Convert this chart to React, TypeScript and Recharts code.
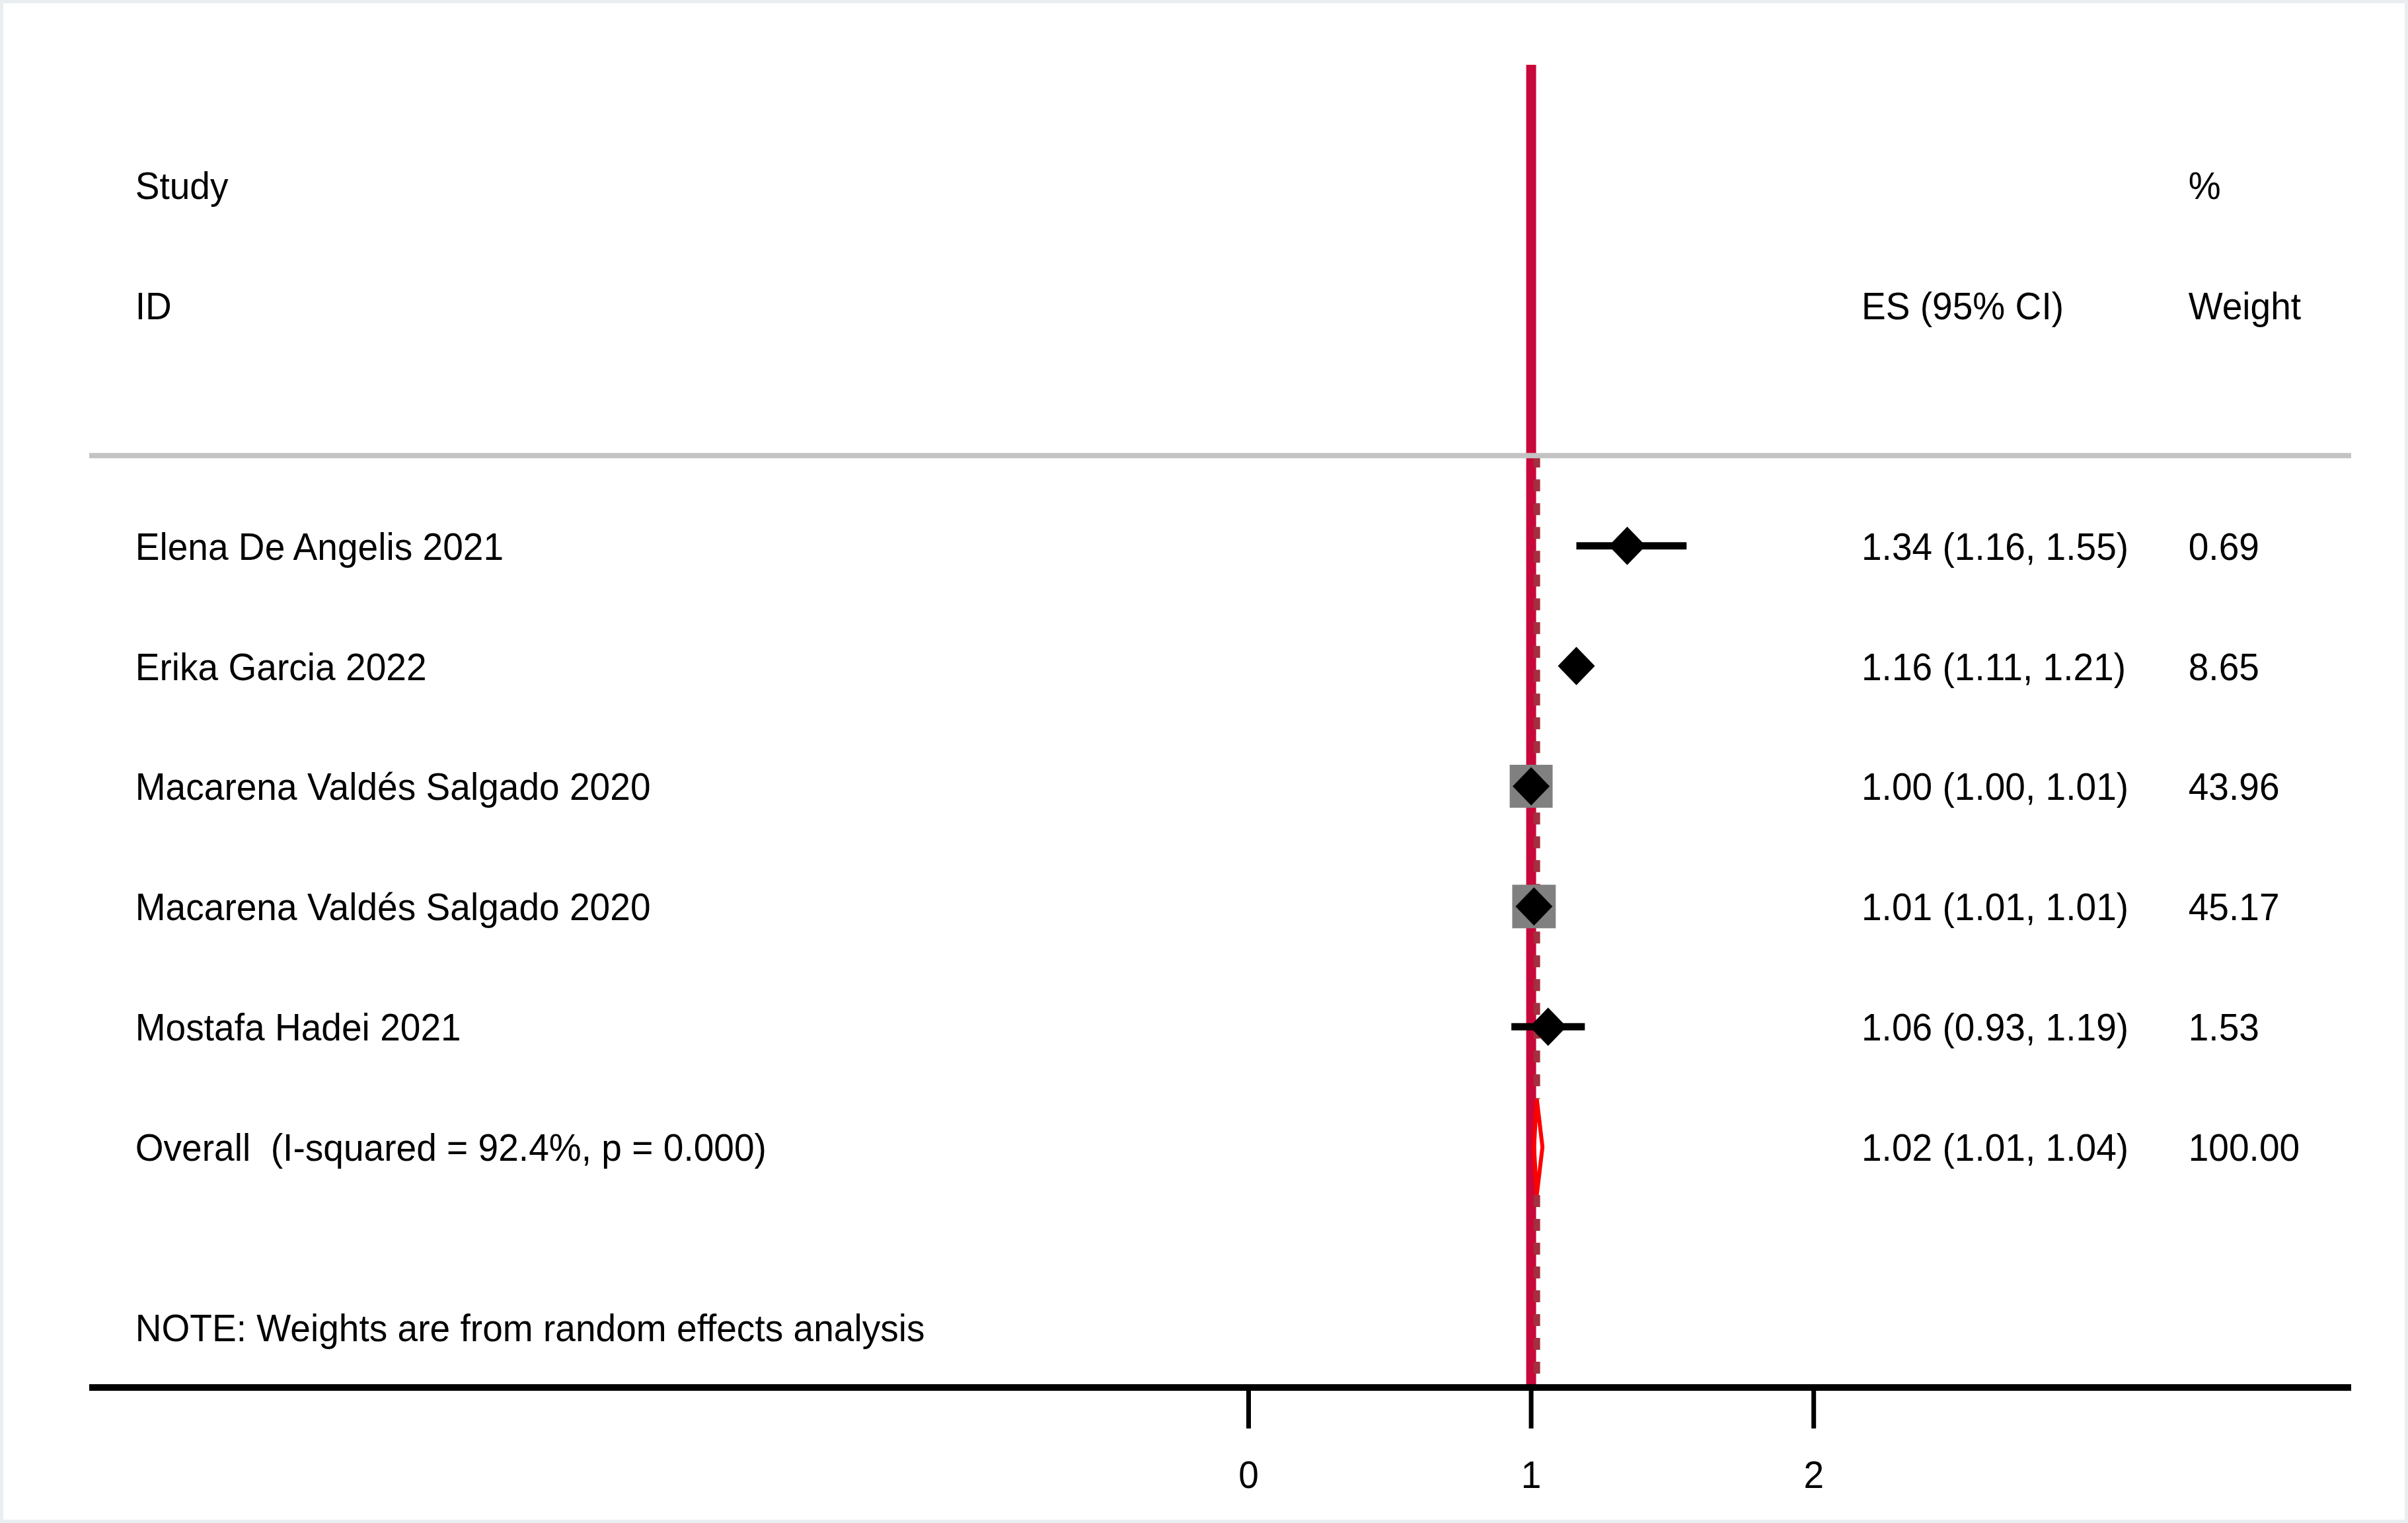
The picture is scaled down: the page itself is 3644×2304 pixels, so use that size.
import React from 'react';
import { ComposedChart, XAxis, YAxis, Scatter, ReferenceLine } from 'recharts';

// ---- data ----
const studyLabels = [
  'Elena De Angelis 2021',
  'Erika Garcia 2022',
  'Macarena Valdés Salgado 2020',
  'Macarena Valdés Salgado 2020',
  'Mostafa Hadei 2021',
];
const effectSizes = [1.34, 1.16, 1.0, 1.01, 1.06];
const ciLower = [1.16, 1.11, 1.0, 1.01, 0.93];
const ciUpper = [1.55, 1.21, 1.01, 1.01, 1.19];
const weights = [0.69, 8.65, 43.96, 45.17, 1.53];

const overallLabel = 'Overall  (I-squared = 92.4%, p = 0.000)';
const overallES = 1.02;
const overallLower = 1.01;
const overallUpper = 1.04;
const overallWeight = 100.0;

const xTicks = [0, 1, 2];
const headerTop = ['Study', '', '%'];
const headerBottom = ['ID', 'ES (95% CI)', 'Weight'];
const noteText = 'NOTE: Weights are from random effects analysis';

// ---- layout constants (data units of the axes) ----
const X_DOMAIN: [number, number] = [-4.103, 3.902];
const Y_DOMAIN: [number, number] = [0, 11];
const COL_LABEL = -3.94;
const COL_ES = 2.169;
const COL_WEIGHT = 3.326;
const FIRST_ROW = 4;
const HEADER_ROW1 = 1;
const HEADER_ROW2 = 2;
const SEPARATOR_ROW = 3.25;
const NOTE_ROW = 10.5;
const DIAMOND_HALF = 0.4;

const FONT = "'Liberation Sans', Arial, Helvetica, sans-serif";
const FONT_SIZE = 58;
const X_SQUEEZE = 0.95;

const fmt = (v: number) => v.toFixed(2);

const overallRow = FIRST_ROW + studyLabels.length;

const studyRows = studyLabels.map((label, i) => ({
  x: effectSizes[i],
  y: FIRST_ROW + i,
  lo: ciLower[i],
  hi: ciUpper[i],
  w: weights[i],
  label,
}));

const labelTexts = [
  { x: COL_LABEL, y: HEADER_ROW1, text: headerTop[0] },
  { x: COL_LABEL, y: HEADER_ROW2, text: headerBottom[0] },
  ...studyLabels.map((t, i) => ({ x: COL_LABEL, y: FIRST_ROW + i, text: t })),
  { x: COL_LABEL, y: overallRow, text: overallLabel },
  { x: COL_LABEL, y: NOTE_ROW, text: noteText },
];
const esTexts = [
  { x: COL_ES, y: HEADER_ROW2, text: headerBottom[1] },
  ...effectSizes.map((e, i) => ({
    x: COL_ES,
    y: FIRST_ROW + i,
    text: `${fmt(e)} (${fmt(ciLower[i])}, ${fmt(ciUpper[i])})`,
  })),
  { x: COL_ES, y: overallRow, text: `${fmt(overallES)} (${fmt(overallLower)}, ${fmt(overallUpper)})` },
];
const weightTexts = [
  { x: COL_WEIGHT, y: HEADER_ROW1, text: headerTop[2] },
  { x: COL_WEIGHT, y: HEADER_ROW2, text: headerBottom[2] },
  ...weights.map((w, i) => ({ x: COL_WEIGHT, y: FIRST_ROW + i, text: fmt(w) })),
  { x: COL_WEIGHT, y: overallRow, text: fmt(overallWeight) },
];

const overallDiamond = [
  { x: overallLower, y: overallRow },
  { x: overallES, y: overallRow - DIAMOND_HALF },
  { x: overallUpper, y: overallRow },
  { x: overallES, y: overallRow + DIAMOND_HALF },
  { x: overallLower, y: overallRow },
];

const TextShape = (props: any) => {
  const { cx, cy, payload } = props;
  return (
    <text
      transform={`translate(${cx},${cy + 21}) scale(${X_SQUEEZE},1)`}
      fontSize={FONT_SIZE}
      fontFamily={FONT}
      fill="#000"
      style={{ whiteSpace: 'pre' }}
    >
      {payload.text}
    </text>
  );
};

const TickLabel = (props: any) => {
  const { x, y, payload } = props;
  return (
    <text
      transform={`translate(${x},${y + 42}) scale(${X_SQUEEZE},1)`}
      textAnchor="middle"
      fontSize={FONT_SIZE}
      fontFamily={FONT}
      fill="#000"
    >
      {payload.value}
    </text>
  );
};

const SquareShape = (props: any) => {
  const { cx, cy, payload } = props;
  const s = 9.8 * Math.sqrt(payload.w);
  return <rect x={cx - s / 2} y={cy - s / 2} width={s} height={s} fill="#808080" />;
};

const DiamondShape = (props: any) => {
  const { cx, cy } = props;
  const hw = 28;
  const hh = 29;
  return (
    <polygon
      points={`${cx - hw},${cy} ${cx},${cy - hh} ${cx + hw},${cy} ${cx},${cy + hh}`}
      fill="#000"
    />
  );
};

const NoShape = () => null;

export default function App() {
  return (
    <div style={{ position: 'absolute', left: 0, top: 0, width: 3644, height: 2304, background: '#fff' }}>
      <ComposedChart
        width={3644}
        height={2304}
        margin={{ top: 98, right: 86, bottom: 55, left: 135 }}
      >
        <XAxis
          type="number"
          dataKey="x"
          domain={X_DOMAIN}
          ticks={xTicks}
          interval={0}
          allowDataOverflow
          height={150}
          tickSize={62}
          tickMargin={48}
          axisLine={{ stroke: '#000', strokeWidth: 10 }}
          tickLine={{ stroke: '#000', strokeWidth: 7 }}
          tick={<TickLabel />}
        />
        <YAxis type="number" dataKey="y" domain={Y_DOMAIN} reversed hide width={0} allowDataOverflow />

        <ReferenceLine x={1} stroke="#C8083A" strokeWidth={15} />
        <ReferenceLine
          segment={[{ x: overallES, y: SEPARATOR_ROW }, { x: overallES, y: overallRow - DIAMOND_HALF }]}
          stroke="#A3303F"
          strokeWidth={10}
          strokeDasharray="18 18"
        />
        <ReferenceLine
          segment={[{ x: overallES, y: overallRow + DIAMOND_HALF }, { x: overallES, y: Y_DOMAIN[1] }]}
          stroke="#A3303F"
          strokeWidth={10}
          strokeDasharray="18 18"
        />
        <ReferenceLine y={SEPARATOR_ROW} stroke="#C3C3C3" strokeWidth={8} />

        {studyRows.map((r, i) => (
          <ReferenceLine
            key={`ci-${i}`}
            segment={[{ x: r.lo, y: r.y }, { x: r.hi, y: r.y }]}
            stroke="#000"
            strokeWidth={11}
          />
        ))}

        <Scatter data={studyRows} shape={SquareShape} isAnimationActive={false} />
        <Scatter data={studyRows} shape={DiamondShape} isAnimationActive={false} />
        <Scatter
          data={overallDiamond}
          shape={NoShape}
          line={{ stroke: '#FF0000', strokeWidth: 6, fill: 'none' }}
          isAnimationActive={false}
        />

        <Scatter data={labelTexts} shape={TextShape} isAnimationActive={false} />
        <Scatter data={esTexts} shape={TextShape} isAnimationActive={false} />
        <Scatter data={weightTexts} shape={TextShape} isAnimationActive={false} />
      </ComposedChart>
      <div
        style={{
          position: 'absolute',
          left: 0,
          top: 0,
          width: 3644,
          height: 2304,
          boxSizing: 'border-box',
          border: '5px solid #E9EEF0',
          pointerEvents: 'none',
        }}
      />
    </div>
  );
}
